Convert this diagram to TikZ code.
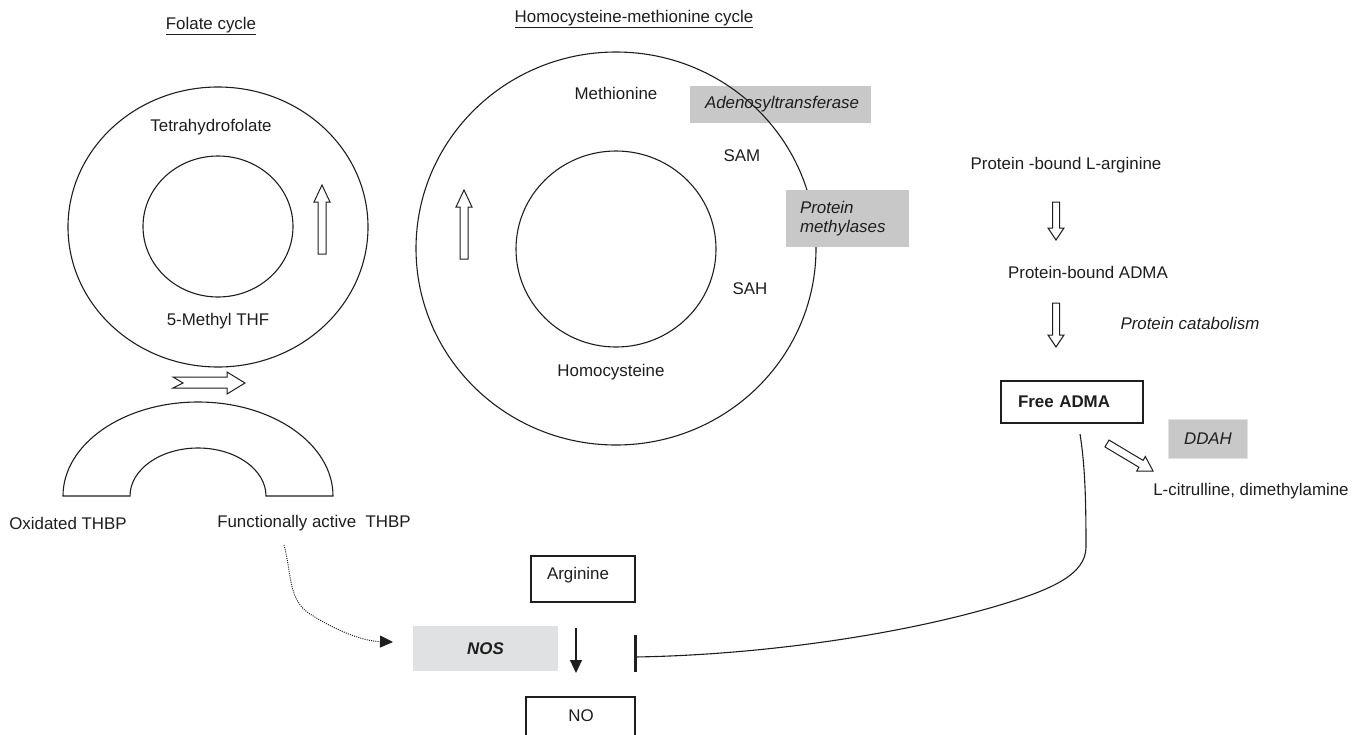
\documentclass[tikz,border=0pt]{standalone}
\usepackage{fontspec}
\setmainfont{Liberation Sans}
\usetikzlibrary{calc,arrows.meta}
\definecolor{boxgray}{RGB}{200,200,200}
\definecolor{nosgray}{RGB}{224,225,226}
\definecolor{ddahedge}{RGB}{225,225,225}
\definecolor{ink}{RGB}{30,30,30}
\newcommand\harrow[5]{%
  \path ($(#2)!#5pt!(#1)$) coordinate (hb);
  \draw[hollow] ($(#1)!#3pt!90:(#2)$) -- ($(hb)!#3pt!90:(#2)$) -- ($(hb)!#4pt!90:(#2)$) -- (#2)
    -- ($(hb)!#4pt!-90:(#2)$) -- ($(hb)!#3pt!-90:(#2)$) -- ($(#1)!#3pt!-90:(#2)$) -- cycle;}
\begin{document}
\begin{tikzpicture}[x=1pt,y=-1pt,
  every node/.style={font=\fontsize{16.9}{19.5}\selectfont, text=ink, inner sep=0pt},
  ring/.style={draw=ink, line width=1.1pt},
  hollow/.style={draw=ink, line width=1pt, fill=white, line join=miter},
  plainbox/.style={draw=ink, line width=1.1pt, fill=white},
  graybox/.style={fill=boxgray},
  lbl/.style={},
  dotarrow/.style={draw=ink, dash pattern=on 1pt off 1.2pt, line width=1pt, -{Triangle[length=13pt,width=12pt,fill=ink]}},
  inhib/.style={draw=ink, line width=1.1pt}
]
\useasboundingbox (0,0) rectangle (1363,734);

% titles
\node[lbl] (t1) at (211,26) {\underline{Folate cycle}};
\node[lbl] (t2) at (634,19) {\underline{Homocysteine-methionine cycle}};

% folate cycle
\draw[ring] (218,227) ellipse [x radius=150, y radius=140];
\draw[ring] (218,226.5) ellipse [x radius=75, y radius=70.5];
\node[lbl] (thf) at (211,127) {Tetrahydrofolate};
\node[lbl] (mthf) at (218,321) {5-Methyl THF};
\harrow{322,254}{322,185}{4}{8}{17}

% notched arrow
\draw[hollow] (173,377) -- (227,377) -- (227,372) -- (245,383) -- (227,394) -- (227,388) -- (173,388) -- (183,383) -- cycle;

% half ring
\draw[ring] (63,496) arc[start angle=180, end angle=360, x radius=135, y radius=94]
  -- (266,496) arc[start angle=0, end angle=-180, x radius=68, y radius=48] -- cycle;
\node[lbl] (ox) at (68,523) {Oxidated THBP};
\node[lbl] (fa) at (314,523) {Functionally active~ THBP};

% homocysteine cycle
\node[graybox, minimum width=181pt, minimum height=37pt, text width=151pt, inner xsep=15pt, align=left] (adeno) at (780.5,104.5) {\itshape Adenosyltransferase};
\draw[ring] (616,248.5) ellipse [x radius=200, y radius=196.5];
\draw[ring] (616,249) ellipse [x radius=100, y radius=98];
\node[graybox, minimum width=123pt, minimum height=57pt, text width=95pt, inner xsep=14pt, align=left] (meth) at (847.5,218.5) {\itshape Protein\\\itshape methylases};
\node[lbl] (met) at (616,93) {Methionine};
\node[lbl] (sam) at (742,156) {SAM};
\node[lbl] (sah) at (750,289) {SAH};
\node[lbl] (hcy) at (611,372) {Homocysteine};
\harrow{464,259}{464,190}{4}{8}{17}

% ADMA pathway
\node[lbl] (pla) at (1066,165) {Protein -bound L-arginine};
\node[lbl] (pba) at (1088,272) {Protein-bound ADMA};
\node[lbl] (pc) at (1190,323) {\itshape Protein catabolism};
\harrow{1056,202}{1056,240}{3.5}{8}{12}
\harrow{1056,303}{1056,347}{3.5}{8}{12}
\node[plainbox, minimum width=142pt, minimum height=42pt, text width=108pt, inner xsep=17pt, align=left] (fadma) at (1072,402) {\bfseries Free ADMA};
\node[graybox, draw=ddahedge, line width=1.5pt, minimum width=79pt, minimum height=39pt] (ddah) at (1208,439) {\itshape DDAH};
\harrow{1107,443.5}{1153,471}{4}{8.5}{14}
\node[lbl] (cit) at (1251,491) {L-citrulline, dimethylamine};

% NOS part
\node[plainbox, minimum width=104pt, minimum height=46pt] (arg) at (583,579) {};
\node[lbl] (argt) at (578,575) {Arginine};
\node[fill=nosgray, minimum width=145pt, minimum height=45pt] (nos) at (485.5,648.5) {\bfseries\itshape NOS};
\draw[plainbox] (526,697) rectangle (635,736);
\node[lbl] (no) at (581,716) {NO};
\coordinate (a0) at (576,628);
\coordinate (a1) at (576,673);
\draw[draw=ink, line width=1.1pt, -{Triangle[length=13pt,width=12pt]}] (a0) -- (a1);

% dotted connector
\coordinate (d0) at (284,545);
\coordinate (d1) at (393,642);
\draw[dotarrow] (d0) .. controls (292,575) and (288,600) .. (310,614) .. controls (332,628) and (360,641) .. (d1);

% inhibition connector
\coordinate (s0) at (1080,434);
\coordinate (inh) at (635,657);
\draw[inhib] (s0) .. controls (1085,465) and (1086,500) .. (1086,547)
  .. controls (1086,575) and (1050,590) .. (1000,605)
  .. controls (900,635) and (760,655) .. (inh);
\draw[draw=ink, line width=3pt] ($(inh)+(0,-22)$) -- ($(inh)+(0,15)$);
\end{tikzpicture}
\end{document}
